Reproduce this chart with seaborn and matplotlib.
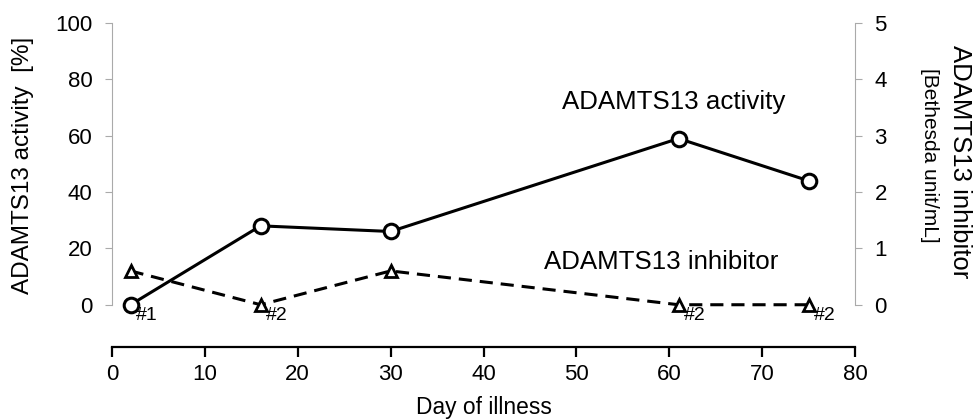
import numpy as np
import pandas as pd
import matplotlib
matplotlib.use("Agg")
import matplotlib.pyplot as plt
import seaborn as sns

# datos
dias = [2, 16, 30, 61, 75]
actividad = [0, 28, 26, 59, 44]
inhibidor = [0.6, 0.0, 0.6, 0.0, 0.0]
etiquetas = ["#1", "#2", "", "#2", "#2"]

sns.set_style("white")
plt.rcParams['font.family'] = ['Liberation Sans', 'DejaVu Sans']
plt.rcParams['font.size'] = 16
plt.rcParams['text.color'] = 'black'
plt.rcParams['axes.labelcolor'] = 'black'

df = pd.DataFrame({'Dia': dias, 'Actividad': actividad, 'Inhibidor': inhibidor})

fig = plt.figure(figsize=(9.74, 4.19), dpi=100)
ax = fig.add_axes([112 / 974, 1 - 347 / 419, (855 - 112) / 974, (347 - 23) / 419])
ax2 = ax.twinx()

sns.lineplot(data=df, x='Dia', y='Actividad', ax=ax, color='black', linewidth=2.2,
             marker='o', markersize=10.5, markerfacecolor='white', markeredgecolor='black',
             markeredgewidth=2.2)
sns.lineplot(data=df, x='Dia', y='Inhibidor', ax=ax2, color='black', linewidth=2.2,
             linestyle=(0, (4.3, 2.6)), marker='^', markersize=8.5, markerfacecolor='white',
             markeredgecolor='black', markeredgewidth=2)

ax.set_xlim(0, 80)
ax.set_ylim(-15, 100)
ax2.set_ylim(-0.75, 5)
ax.set_xticks(range(0, 81, 10))
ax.set_yticks(range(0, 101, 20))
ax2.set_yticks(range(0, 6))

for a in (ax, ax2):
    for s in a.spines.values():
        s.set_visible(False)

ax.spines['left'].set_visible(True)
ax.spines['left'].set_bounds(0, 100)
ax.spines['left'].set_color('#aaaaaa')
ax.spines['bottom'].set_visible(True)
ax.spines['bottom'].set_color('black')
ax.spines['bottom'].set_linewidth(1.6)
ax2.spines['right'].set_visible(True)
ax2.spines['right'].set_bounds(0, 5)
ax2.spines['right'].set_color('#aaaaaa')

ax.tick_params(axis='y', left=True, length=5, color='#aaaaaa', labelcolor='black', labelsize=16, pad=9)
ax.tick_params(axis='x', bottom=True, length=7, width=1.6, color='black', labelcolor='black', labelsize=16, pad=5)
ax2.tick_params(axis='y', right=True, length=5, color='#aaaaaa', labelcolor='black', labelsize=16, pad=9)

ax.set_xlabel('')
ax.set_ylabel('')
ax2.set_ylabel('')

fig.text(484 / 974, 1 - 407 / 419, 'Day of illness', ha='center', va='center', fontsize=16.4)
fig.text(23 / 974, 1 - 165 / 419, 'ADAMTS13 activity  [%]', rotation=90, ha='center', va='center', fontsize=17.5)
fig.text(960 / 974, 1 - 162 / 419, 'ADAMTS13 inhibitor', rotation=270, ha='center', va='center', fontsize=18.5)
fig.text(930 / 974, 1 - 155 / 419, '[Bethesda unit/mL]', rotation=270, ha='center', va='center', fontsize=15)

for d, v, e in zip(dias, inhibidor, etiquetas):
    if e == "#1":
        ax.text(d + 0.6, -0.8, e, fontsize=14, va='top', ha='left')
    elif e:
        ax2.text(d + 0.6, v - 0.04, e, fontsize=14, va='top', ha='left')

ax.text(48.4, 71.8, 'ADAMTS13 activity', fontsize=18.6, va='center', ha='left')
ax.text(46.5, 15.2, 'ADAMTS13 inhibitor', fontsize=18.6, va='center', ha='left')

fig.savefig('out.png', dpi=100)
